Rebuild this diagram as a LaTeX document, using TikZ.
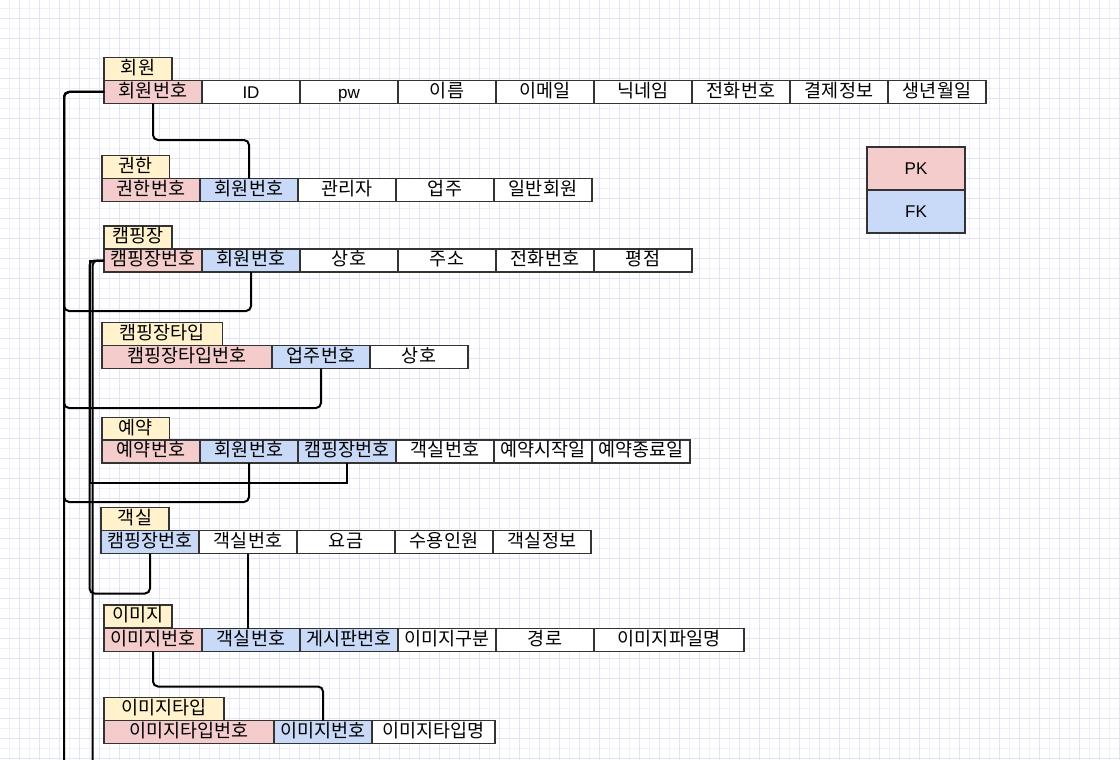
\documentclass[tikz,border=0pt]{standalone}
\usepackage{fontspec}
\setmainfont{Noto Sans CJK KR}
\newfontfamily\latinf{Liberation Sans}
\definecolor{bd}{HTML}{333333}
\definecolor{ttlfill}{HTML}{FFF2CC}
\definecolor{pkfill}{HTML}{F4CCCC}
\definecolor{fkfill}{HTML}{C9DAF8}
\definecolor{gridminor}{HTML}{F0F0FA}
\definecolor{gridmajor}{HTML}{E3E3F6}
\newcommand\erdrow[4]{%
  \xdef\curx{#2}%
  \foreach \w/\s/\t [count=\n] in {#4} {%
    \node[\s, minimum width=\w] (#1c\n) at (\curx,#3) {\t};
    \pgfmathsetmacro\nx{\curx+\w}\xdef\curx{\nx}%
  }%
}
\begin{document}
\begin{tikzpicture}[x=1pt,y=-1pt,
  box/.style={draw=bd, line width=1.8pt, anchor=north west, inner sep=0pt, outer sep=0pt,
    minimum height=23, text height=12.9, text depth=2.1, font=\fontsize{18.5}{18.5}\selectfont},
  ttl/.style={box, fill=ttlfill},
  pkc/.style={box, fill=pkfill},
  fkc/.style={box, fill=fkfill},
  plc/.style={box, fill=white},
  plat/.style={plc, font=\latinf\fontsize{17}{17}\selectfont, text height=13.6, text depth=1.4},
  legc/.style={plat, minimum width=98, minimum height=43},
  conn/.style={draw=black, line width=2pt, rounded corners=5pt},
  sharpconn/.style={draw=black, line width=2pt},
  gmin/.style={draw=gridminor, line width=0.8pt},
  gmaj/.style={draw=gridmajor, line width=0.9pt}]
\useasboundingbox (0,0) rectangle (1120,760);
\clip (0,0) rectangle (1120,760);
\fill[white] (0,0) rectangle (1120,760);
% grid
\foreach \i in {9,29,...,1119} \draw[gmin] (\i,0) -- (\i,760);
\foreach \i in {8,28,...,758} \draw[gmin] (0,\i) -- (1120,\i);
\foreach \i in {19,39,...,1119} \draw[gmaj] (\i,0) -- (\i,760);
\foreach \i in {18,38,...,758} \draw[gmaj] (0,\i) -- (1120,\i);

% tables
\node[ttl, minimum width=68] (ht) at (104,57.5) {회원};
\erdrow{h}{104}{80.5}{98/pkc/회원번호, 98/plat/ID, 98/plat/pw, 98/plc/이름, 98/plc/이메일, 98/plc/닉네임, 98/plc/전화번호, 98/plc/결제정보, 98/plc/생년월일}

\node[ttl, minimum width=67.5] (kt) at (102,155.5) {권한};
\erdrow{k}{102}{178.5}{98/pkc/권한번호, 98/fkc/회원번호, 98/plc/관리자, 98/plc/업주, 98/plc/일반회원}

\node[ttl, minimum width=68] (ct) at (104,226) {캠핑장};
\erdrow{c}{104}{249}{98/pkc/캠핑장번호, 98/fkc/회원번호, 98/plc/상호, 98/plc/주소, 98/plc/전화번호, 98/plc/평점}

\node[ttl, minimum width=120.5] (tt) at (102,322.5) {캠핑장타입};
\erdrow{t}{102}{345.5}{170/pkc/캠핑장타입번호, 98/fkc/업주번호, 98/plc/상호}

\node[ttl, minimum width=67.5] (rt) at (102,417.5) {예약};
\erdrow{r}{102}{440}{98/pkc/예약번호, 98/fkc/회원번호, 98/fkc/캠핑장번호, 98/plc/객실번호, 98/plc/예약시작일, 98/plc/예약종료일}

\node[ttl, minimum width=68] (gt) at (101,507.5) {객실};
\erdrow{g}{101}{530.5}{98/fkc/캠핑장번호, 98/plc/객실번호, 98/plc/요금, 98/plc/수용인원, 98/plc/객실정보}

\node[ttl, minimum width=68] (it) at (104,605) {이미지};
\erdrow{i}{104}{628.5}{98/pkc/이미지번호, 98/fkc/객실번호, 98/fkc/게시판번호, 98/plc/이미지구분, 98/plc/경로, 150/plc/이미지파일명}

\node[ttl, minimum width=120] (yt) at (104,697.5) {이미지타입};
\erdrow{y}{104}{720.5}{170/pkc/이미지타입번호, 98/fkc/이미지번호, 123/plc/이미지타입명}

% legend
\node[legc, fill=pkfill] (lpk) at (867,147) {PK};
\node[legc, fill=fkfill] (lfk) at (867,190) {FK};

% free ends below the picture
\coordinate (outA) at (64,765);
\coordinate (outB) at (92.5,765);

% connectors
\draw[conn] (hc1.south) -- ++(0,36.5) -| (kc2.north);
\draw[conn] (hc1.west) -- (64,92) -- (64,311) -| (cc2.south);
\draw[conn] (hc1.west) -- (64,92) -- (64,408) -| (tc2.south);
\draw[conn] (hc1.west) -- (64,92) -- (64,502) -| (rc2.south);
\draw[conn] (hc1.west) -- (64,92) -- (outA);
\draw[sharpconn] (cc1.west) -- (89.5,260.5) -- (89.5,482.5) -| (rc3.south);
\draw[conn] (cc1.west) -- (89.5,260.5) -- (89.5,593.5) -| (gc1.south);
\draw[conn] (cc1.west) -- (92.5,260.5) -- (outB);
\draw[conn] (gc2.south) -- (gc2.south |- ic2.north);
\draw[conn] (ic1.south) -- ++(0,35) -| (yc2.north);
\end{tikzpicture}
\end{document}
